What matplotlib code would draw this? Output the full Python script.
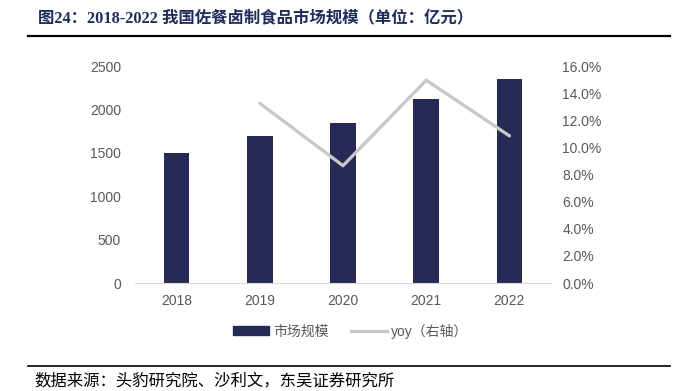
import matplotlib
matplotlib.use("Agg")
import matplotlib.pyplot as plt
from matplotlib.lines import Line2D
from matplotlib.patches import Patch
from matplotlib.ticker import FuncFormatter

years = ["2018", "2019", "2020", "2021", "2022"]
market_size = [1495, 1693, 1840, 2116, 2347]
yoy = [None, 13.25, 8.65, 14.95, 10.85]

bar_color = "#262A54"
line_color = "#C8C8C8"
tick_color = "#595959"
cjk = ["Liberation Sans", "Noto Sans CJK SC"]

fig = plt.figure(figsize=(6.94, 3.91), dpi=100)
ax = fig.add_axes([0.1945, 0.2762, 0.5995, 0.555])

x = list(range(len(years)))
ax.bar(x, market_size, width=0.31, color=bar_color, zorder=2)
ax.set_xlim(-0.5, 4.5)
ax.set_ylim(0, 2500)
ax.set_yticks([0, 500, 1000, 1500, 2000, 2500])
ax.set_xticks(x)
ax.set_xticklabels(years)

ax2 = ax.twinx()
ax2.plot(x[1:], yoy[1:], color=line_color, lw=2.4, solid_capstyle="round", zorder=3)
ax2.set_ylim(0, 16)
ax2.set_yticks(range(0, 17, 2))
ax2.yaxis.set_major_formatter(FuncFormatter(lambda v, p: f"{v:.1f}%"))

for a in (ax, ax2):
    for s in a.spines.values():
        s.set_visible(False)
    a.tick_params(length=0, colors=tick_color, labelsize=10)
    for lab in a.get_xticklabels() + a.get_yticklabels():
        lab.set_family(cjk)
ax.spines["bottom"].set_visible(True)
ax.spines["bottom"].set_color("#D9D9D9")
ax.tick_params(axis="x", pad=8)
ax.tick_params(axis="y", pad=10)
ax2.tick_params(axis="y", pad=8)

handles = [Patch(color=bar_color), Line2D([0], [0], color=line_color, lw=2.4)]
fig.legend(handles, ["市场规模", "yoy（右轴）"], loc="center", bbox_to_anchor=(0.505, 0.153),
           ncol=2, frameon=False, prop={"family": cjk, "size": 10}, labelcolor=tick_color,
           handlelength=2.6, handleheight=0.6, columnspacing=1.6, handletextpad=0.3)

fig.text(0.055, 0.951, "图24：2018-2022 我国佐餐卤制食品市场规模（单位：亿元）",
         family=["Liberation Serif", "Noto Sans CJK SC"], weight="bold", size=11.8,
         color="#1F2D5C", va="center")
fig.add_artist(Line2D([0.04, 0.966], [0.908, 0.908], color="black", lw=1.6))
fig.add_artist(Line2D([0.04, 0.966], [0.064, 0.064], color="black", lw=1.2))
fig.text(0.05, 0.027, "数据来源：头豹研究院、沙利文，东吴证券研究所",
         family=["Noto Sans CJK SC"], size=11.8, color="black", va="center")

fig.savefig("out.png", dpi=100)
